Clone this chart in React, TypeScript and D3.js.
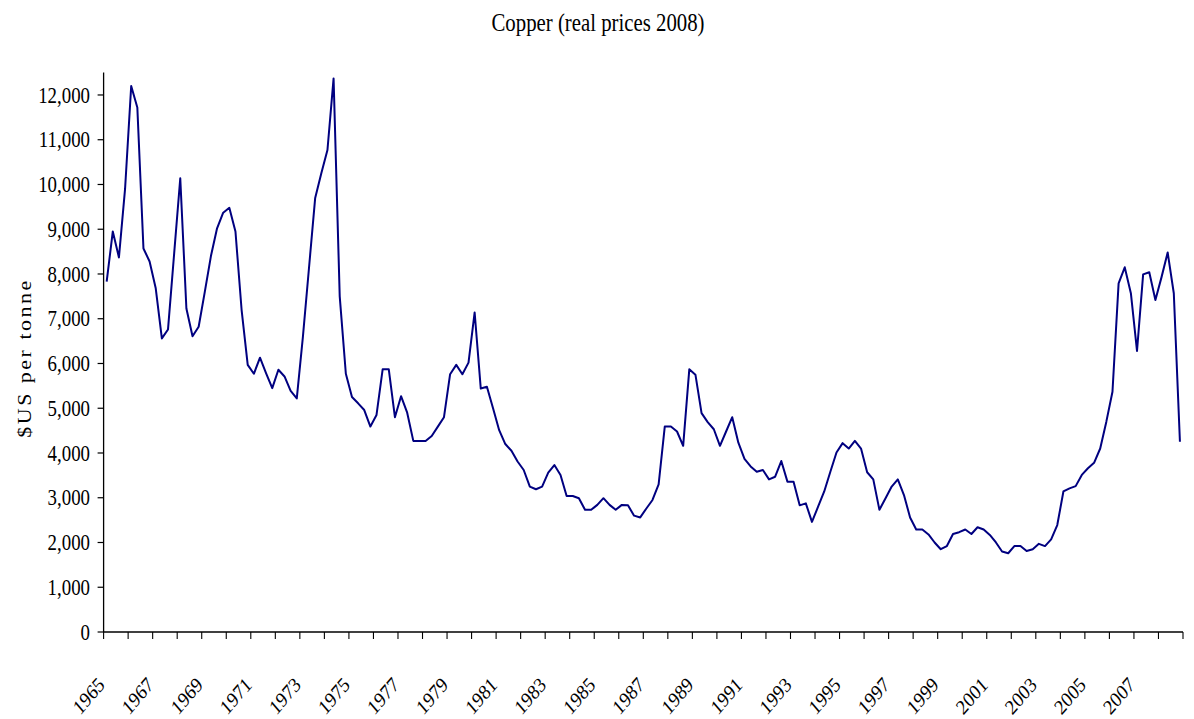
import * as d3 from 'd3';

// Quarterly copper price, real 2008 US$ per tonne, 1965 Q1 to 2008 Q4
const copperPrice = [
  7830, 8950, 8370, 9900, 12200, 11720, 8570, 8280, 7680, 6560, 6760, 8450,
  10140, 7230, 6610, 6820, 7600, 8400, 9020, 9370, 9480, 8950, 7200, 5970,
  5770, 6130, 5780, 5450, 5860, 5710, 5390, 5220, 6600, 8150, 9700, 10250,
  10770, 12370, 7500, 5770, 5250, 5110, 4960, 4590, 4850, 5870, 5870, 4800,
  5270, 4900, 4270, 4270, 4270, 4380, 4590, 4800, 5760, 5970, 5760, 6020,
  7140, 5440, 5480, 5000, 4510, 4200, 4050, 3810, 3620, 3250, 3190, 3250,
  3560, 3730, 3510, 3040, 3040, 2990, 2730, 2730, 2840, 2990, 2840, 2730,
  2840, 2830, 2600, 2560, 2760, 2950, 3300, 4590, 4590, 4480, 4160, 5870,
  5750, 4890, 4690, 4530, 4160, 4480, 4800, 4230, 3870, 3700, 3580, 3620,
  3410, 3470, 3820, 3360, 3360, 2830, 2875, 2460, 2800, 3140, 3580, 4010,
  4220, 4100, 4270, 4100, 3570, 3410, 2730, 2990, 3250, 3410, 3060, 2560,
  2290, 2290, 2180, 2000, 1850, 1920, 2190, 2230, 2290, 2190, 2340, 2290,
  2170, 2000, 1800, 1760, 1920, 1920, 1810, 1850, 1970, 1920, 2070, 2390,
  3140, 3210, 3260, 3510, 3660, 3780, 4100, 4700, 5370, 7790, 8150, 7570,
  6280, 7990, 8040, 7420, 7930, 8480, 7570, 4250,
];

const years = d3.range(1965, 2009);
const yearLabels = [
  '1965', '1967', '1969', '1971', '1973', '1975', '1977', '1979', '1981', '1983', '1985',
  '1987', '1989', '1991', '1993', '1995', '1997', '1999', '2001', '2003', '2005', '2007',
];
const yTicks = [0, 1000, 2000, 3000, 4000, 5000, 6000, 7000, 8000, 9000, 10000, 11000, 12000];

const quarters = years.flatMap(y => [1, 2, 3, 4].map(q => `${y}Q${q}`));

const width = 1194;
const height = 719;
const left = 103.6;
const right = 1183;
const bottom = 632;
const top = 72.6;
const font = '"Liberation Serif", "Times New Roman", serif';

const x = d3.scaleBand<string>().domain(quarters).range([left, right]).padding(0);
const y = d3.scaleLinear().domain([0, 12500]).range([bottom, top]);

const line = d3.line<number>()
  .x((_, i) => (x(quarters[i]) ?? 0) + x.bandwidth() / 2)
  .y(d => y(d));

// narrow text, the source picture is squeezed sideways
function Label({ x, y, rotate = 0, anchor = 'middle', size = 22, sx = 0.85, spacing = 0, baseline, children }: any) {
  return (
    <g transform={`translate(${x},${y}) scale(${sx},1) rotate(${rotate})`}>
      <text
        textAnchor={anchor}
        dominantBaseline={baseline}
        fontFamily={font}
        fontSize={size}
        letterSpacing={spacing}
        fill="#000"
      >
        {children}
      </text>
    </g>
  );
}

export default function App() {
  const fmt = d3.format(',');
  return (
    <svg
      width={width}
      height={height}
      style={{ position: 'absolute', left: 0, top: 0, background: '#fff' }}
    >
      <Label x={598} y={31} size={26} sx={0.8}>Copper (real prices 2008)</Label>

      <Label x={31} y={358} rotate={-90} size={22} sx={0.9} spacing={2.5}>$US per tonne</Label>

      {/* y axis */}
      <line x1={left} x2={left} y1={top} y2={bottom} stroke="#000" strokeWidth={1.3} />
      {yTicks.map(t => (
        <g key={t}>
          <line x1={left - 6} x2={left} y1={y(t)} y2={y(t)} stroke="#000" strokeWidth={1.2} />
          <Label x={90} y={y(t)} anchor="end" size={23} sx={0.82} baseline="central">{fmt(t)}</Label>
        </g>
      ))}

      {/* x axis */}
      <line x1={left} x2={right} y1={bottom} y2={bottom} stroke="#000" strokeWidth={1.3} />
      {years.concat([2009]).map((yr, i) => {
        const px = i < years.length ? (x(`${yr}Q1`) ?? 0) : right;
        return <line key={yr} x1={px} x2={px} y1={bottom} y2={bottom + 7} stroke="#000" strokeWidth={1.1} />;
      })}
      {yearLabels.map(lbl => {
        const px = (x(`${lbl}Q1`) ?? 0) + x.bandwidth() / 2;
        return (
          <Label key={lbl} x={px - 1} y={bottom + 54} rotate={-45} anchor="end" size={21} sx={0.86}>{lbl}</Label>
        );
      })}

      <path d={line(copperPrice) ?? ''} fill="none" stroke="#000080" strokeWidth={2} strokeLinejoin="round" />
    </svg>
  );
}
